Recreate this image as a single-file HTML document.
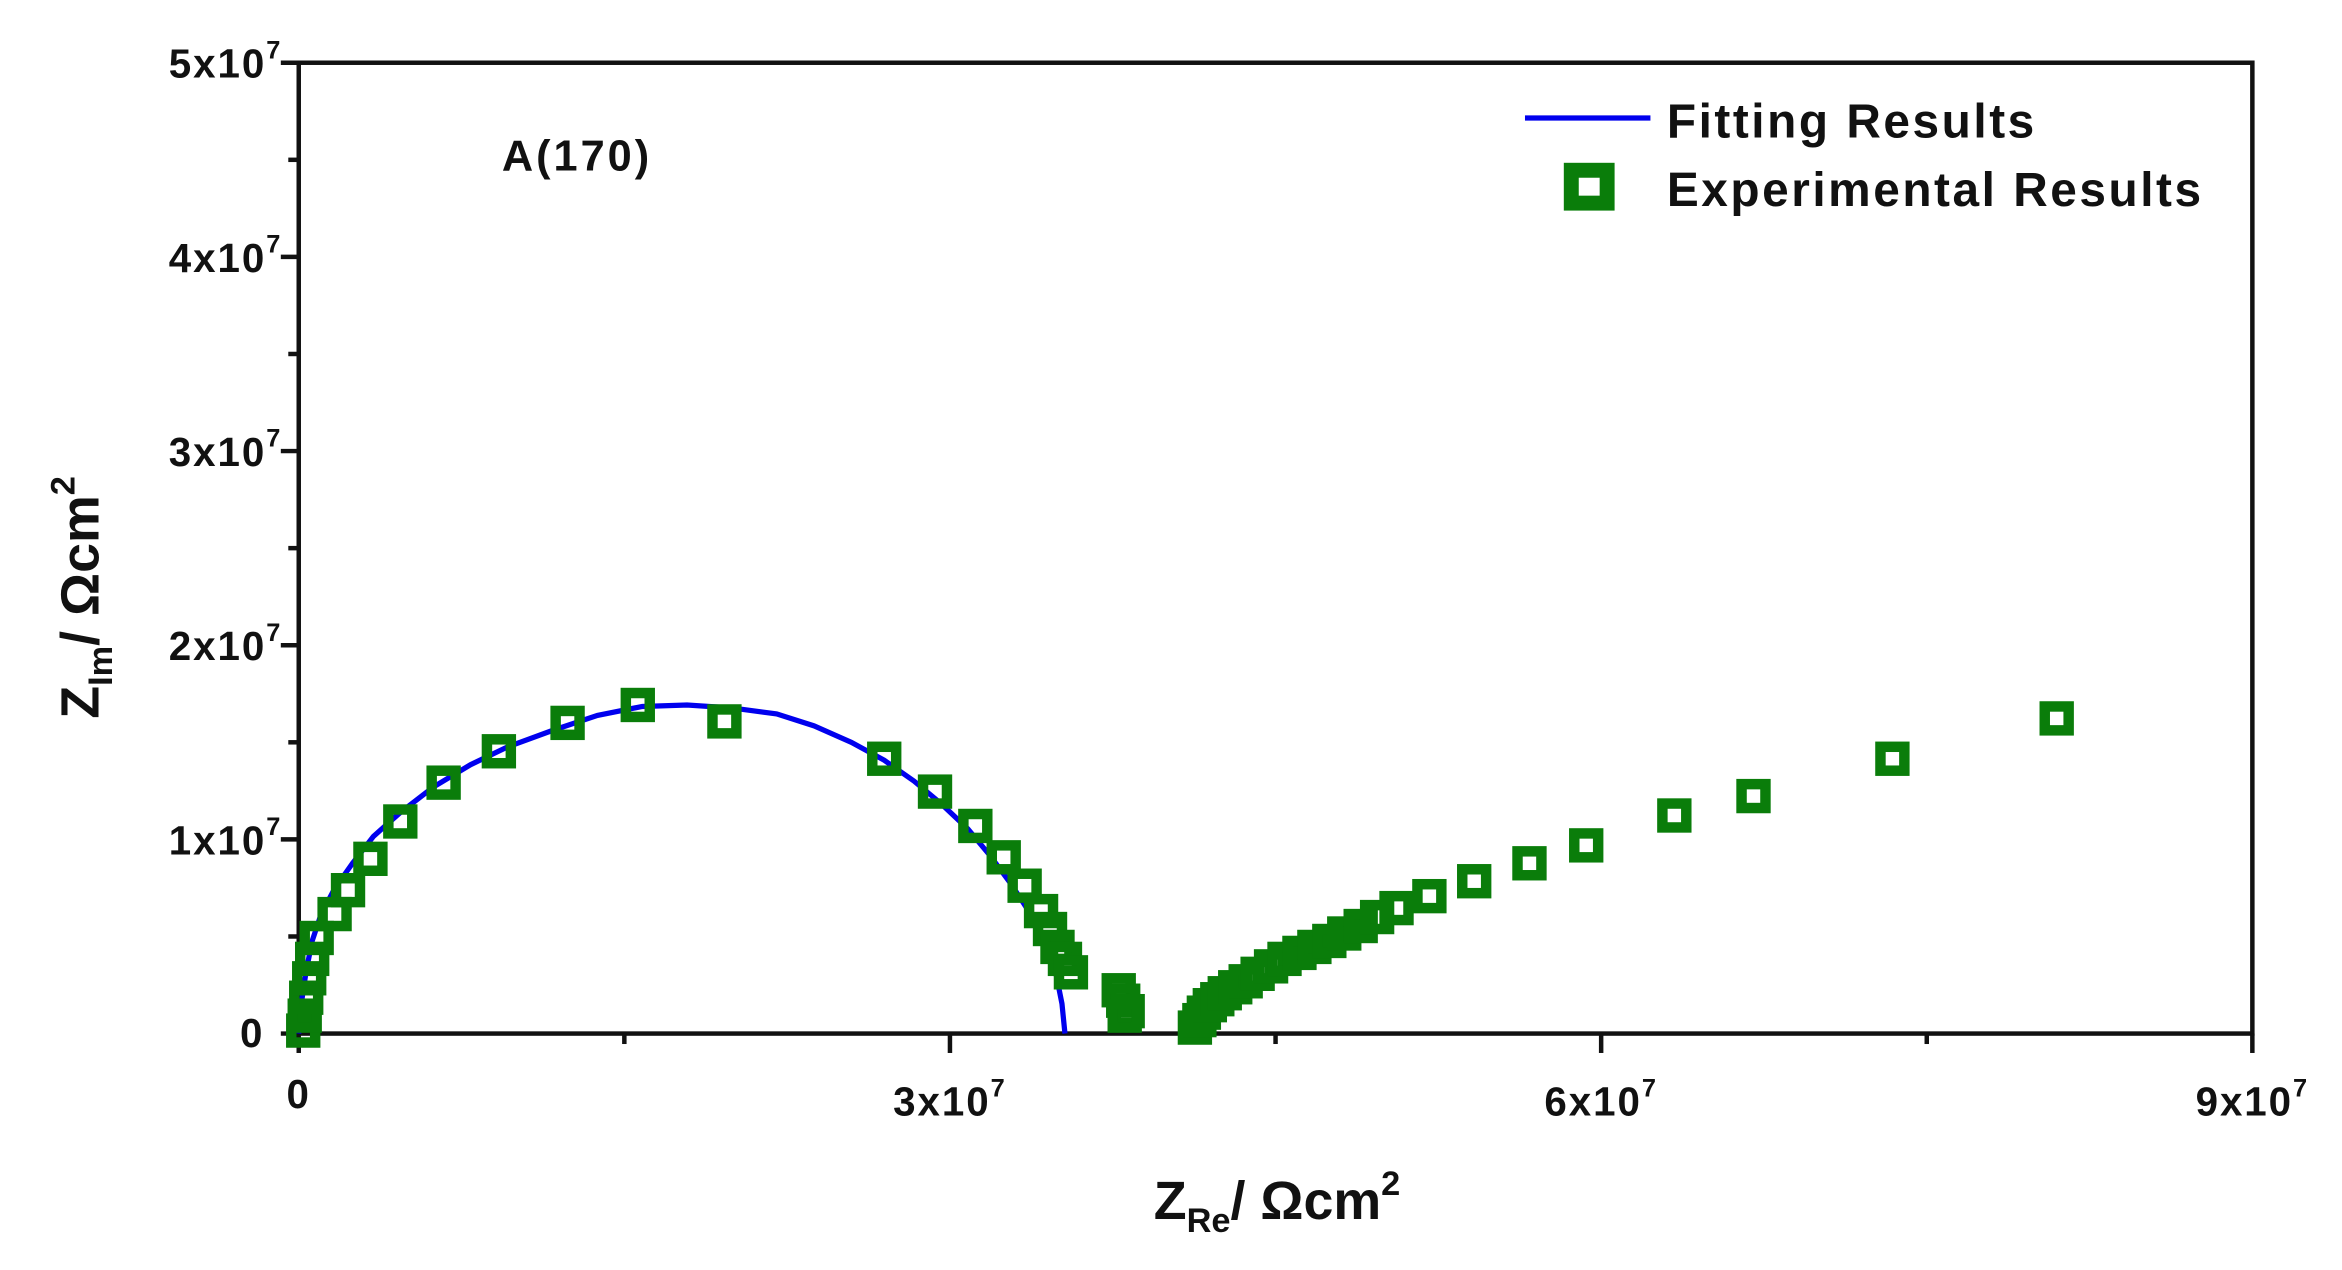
<!DOCTYPE html>
<html><head><meta charset="utf-8"><style>
html,body{margin:0;padding:0;background:#fff;}
svg{display:block;}
text{font-family:"Liberation Sans",Arial,sans-serif;font-weight:bold;fill:#111;}
</style></head><body>
<svg width="2342" height="1270" viewBox="0 0 1568 850.3" xmlns="http://www.w3.org/2000/svg">
<rect width="1568" height="850.3" fill="#fff"/>
<rect x="200" y="42" width="1308" height="650" fill="none" stroke="#111" stroke-width="3"/>
<g stroke="#111" stroke-width="3">
<line x1="188" y1="692" x2="200" y2="692"/><line x1="188" y1="562" x2="200" y2="562"/><line x1="188" y1="432" x2="200" y2="432"/><line x1="188" y1="302" x2="200" y2="302"/><line x1="188" y1="172" x2="200" y2="172"/><line x1="188" y1="42" x2="200" y2="42"/>
<line x1="193" y1="627" x2="200" y2="627"/><line x1="193" y1="497" x2="200" y2="497"/><line x1="193" y1="367" x2="200" y2="367"/><line x1="193" y1="237" x2="200" y2="237"/><line x1="193" y1="107" x2="200" y2="107"/>
<line x1="200" y1="692" x2="200" y2="705"/><line x1="636" y1="692" x2="636" y2="705"/><line x1="1072" y1="692" x2="1072" y2="705"/><line x1="1508" y1="692" x2="1508" y2="705"/>
<line x1="418" y1="692" x2="418" y2="699"/><line x1="854" y1="692" x2="854" y2="699"/><line x1="1290" y1="692" x2="1290" y2="699"/>
</g>
<g font-size="27" text-anchor="end" letter-spacing="1.3">
<text x="177" y="701">0</text>
<text x="189" y="572">1x10<tspan font-size="17" dy="-13">7</tspan></text>
<text x="189" y="442">2x10<tspan font-size="17" dy="-13">7</tspan></text>
<text x="189" y="312">3x10<tspan font-size="17" dy="-13">7</tspan></text>
<text x="189" y="182">4x10<tspan font-size="17" dy="-13">7</tspan></text>
<text x="189" y="52">5x10<tspan font-size="17" dy="-13">7</tspan></text>
</g>
<g font-size="27" text-anchor="middle" letter-spacing="1.3">
<text x="200" y="742">0</text>
<text x="636" y="747">3x10<tspan font-size="17" dy="-13">7</tspan></text>
<text x="1072" y="747">6x10<tspan font-size="17" dy="-13">7</tspan></text>
<text x="1508" y="747">9x10<tspan font-size="17" dy="-13">7</tspan></text>
</g>
<text x="855" y="816" font-size="36" text-anchor="middle">Z<tspan font-size="23" dy="9">Re</tspan><tspan dy="-9">/ Ωcm</tspan><tspan font-size="23" dy="-16">2</tspan></text>
<text transform="translate(66,400) rotate(-90)" font-size="36" text-anchor="middle">Z<tspan font-size="23" dy="9">Im</tspan><tspan dy="-9">/ Ωcm</tspan><tspan font-size="23" dy="-16">2</tspan></text>
<text x="336" y="114" font-size="29" letter-spacing="2">A(170)</text>
<line x1="1021" y1="79" x2="1105" y2="79" stroke="#0000ee" stroke-width="3.5"/>
<text x="1116" y="92" font-size="32" letter-spacing="1.7">Fitting Results</text>
<rect x="1052" y="114" width="24" height="22" fill="none" stroke="#0a7d0a" stroke-width="10"/>
<text x="1116" y="138" font-size="32" letter-spacing="1.7">Experimental Results</text>
<polyline fill="none" stroke="#0000ee" stroke-width="3.5" points="200,692 202,670 205,650 209,630 215,612 224,595 236,578 250,560 268,544 290,527 315,512 340,500 370,489 400,479 430,473 460,472 490,474 520,478 545,486 570,497 592,509 612,523 630,538 648,555 663,573 677,592 690,612 700,632 707,652 711,672 713,692"/>
<g fill="none" stroke="#0a7d0a" stroke-width="7">
<rect x="195" y="682" width="16" height="16"/><rect x="196" y="672" width="16" height="16"/><rect x="197" y="660" width="16" height="16"/><rect x="199" y="647" width="16" height="16"/><rect x="201" y="634" width="16" height="16"/><rect x="204" y="620" width="16" height="16"/>
<rect x="216" y="604" width="16" height="16"/><rect x="225" y="588" width="16" height="16"/><rect x="240" y="567" width="16" height="16"/><rect x="260" y="542" width="16" height="16"/><rect x="289" y="516" width="16" height="16"/><rect x="326" y="495" width="16" height="16"/><rect x="372" y="476" width="16" height="16"/><rect x="419" y="464" width="16" height="16"/><rect x="477" y="475" width="16" height="16"/><rect x="584" y="500" width="16" height="16"/><rect x="618" y="522" width="16" height="16"/><rect x="645" y="545" width="16" height="16"/><rect x="664" y="566" width="16" height="16"/><rect x="678" y="585" width="16" height="16"/><rect x="689" y="602" width="16" height="16"/><rect x="695" y="614" width="16" height="16"/><rect x="700" y="626" width="16" height="16"/><rect x="705" y="634" width="16" height="16"/><rect x="709" y="643" width="16" height="16"/>
<rect x="741" y="655" width="16" height="16"/><rect x="744" y="662" width="16" height="16"/><rect x="747" y="669" width="16" height="16"/><rect x="745" y="672" width="16" height="16"/>
<rect x="792" y="680" width="16" height="16"/><rect x="795" y="675" width="16" height="16"/><rect x="798" y="670" width="16" height="16"/><rect x="802" y="665" width="16" height="16"/><rect x="807" y="661" width="16" height="16"/><rect x="812" y="657" width="16" height="16"/><rect x="819" y="653" width="16" height="16"/><rect x="826" y="649" width="16" height="16"/><rect x="834" y="644" width="16" height="16"/><rect x="843" y="639" width="16" height="16"/><rect x="852" y="634" width="16" height="16"/><rect x="862" y="630" width="16" height="16"/><rect x="872" y="626" width="16" height="16"/><rect x="882" y="622" width="16" height="16"/><rect x="892" y="617" width="16" height="16"/><rect x="903" y="612" width="16" height="16"/><rect x="914" y="606" width="16" height="16"/><rect x="927" y="600" width="16" height="16"/><rect x="949" y="592" width="16" height="16"/><rect x="979" y="582" width="16" height="16"/><rect x="1016" y="570" width="16" height="16"/><rect x="1054" y="558" width="16" height="16"/><rect x="1113" y="538" width="16" height="16"/><rect x="1166" y="525" width="16" height="16"/><rect x="1259" y="500" width="16" height="16"/><rect x="1369" y="473" width="16" height="16"/>
</g>
</svg>
</body></html>
